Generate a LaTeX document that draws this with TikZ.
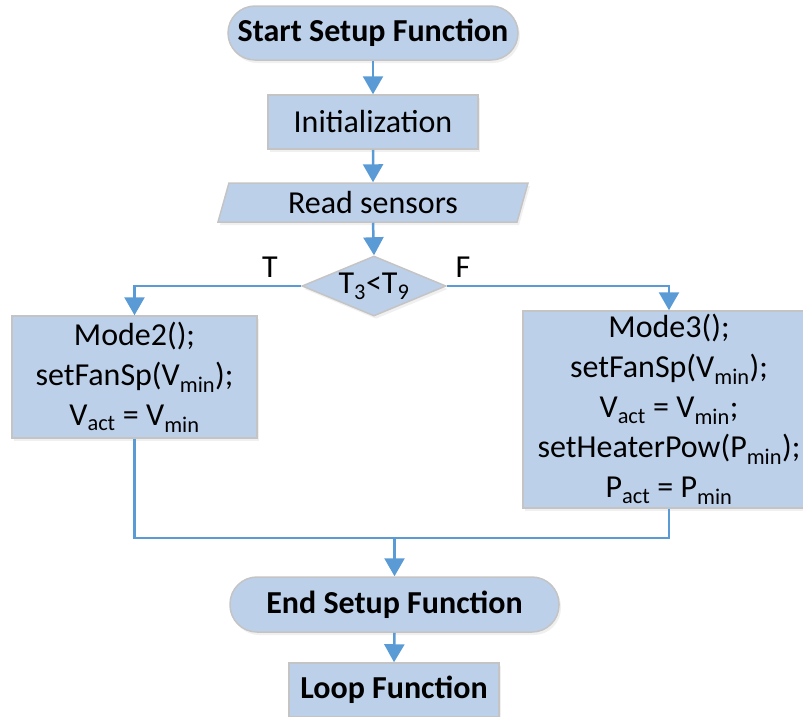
\documentclass[tikz,border=0pt]{standalone}
\usepackage{fontspec}
\setmainfont{Carlito}
\usetikzlibrary{arrows.meta,shapes.geometric,shadows}
\definecolor{boxfill}{HTML}{BDD0EA}
\definecolor{boxedge}{HTML}{C4C4C4}
\definecolor{flowblue}{HTML}{5B9BD5}
\begin{document}
\begin{tikzpicture}[x=1pt,y=-1pt,
  base/.style={fill=boxfill, draw=boxedge, line width=1.5pt, inner sep=0pt,
    font=\fontsize{32}{40}\selectfont, align=center,
    drop shadow={opacity=0.12, shadow xshift=2pt, shadow yshift=-3pt}},
  terminal/.style={base, rectangle, rounded corners=27pt},
  process/.style={base, rectangle},
  io/.style={base, trapezium, trapezium left angle=64, trapezium right angle=116,
    trapezium stretches body},
  decision/.style={base, diamond, aspect=2.4},
  link/.style={draw=flowblue, line width=2.5pt},
  flow/.style={link, -{Triangle[width=20pt,length=18pt]}},
  tag/.style={font=\fontsize{32}{40}\selectfont, inner sep=0pt}]
\useasboundingbox (0,0) rectangle (803,716);

\node[terminal, minimum width=290pt, minimum height=54pt] (start) at (373,33)
  {\bfseries Start Setup Function};
\node[process, minimum width=210pt, minimum height=54pt] (init) at (373,122)
  {Initialization};
\node[io, minimum width=310pt, minimum height=39pt] (read) at (373,202.5)
  {Read sensors};
\node[decision, minimum width=144pt, minimum height=60pt] (dec) at (374,286)
  {T\textsubscript{3}<T\textsubscript{9}};
\node[process, minimum width=245pt, minimum height=122pt] (m2) at (134.5,377)
  {Mode2();\\ setFanSp(V\textsubscript{min});\\ V\textsubscript{act} = V\textsubscript{min}};
\node[process, minimum width=292pt, minimum height=197pt] (m3) at (669,409.5)
  {Mode3();\\ setFanSp(V\textsubscript{min});\\ V\textsubscript{act} = V\textsubscript{min};\\
   setHeaterPow(P\textsubscript{min});\\ P\textsubscript{act} = P\textsubscript{min}};
\node[terminal, minimum width=329pt, minimum height=55pt] (end) at (394.5,604.5)
  {\bfseries End Setup Function};
\node[process, minimum width=210pt, minimum height=54pt] (loop) at (394,690)
  {\bfseries Loop Function};

\node[tag] (tlab) at (270,267) {T};
\node[tag] (flab) at (463,267) {F};
\coordinate (merge) at (394.5,538);

\draw[flow] (start.south) -- (init.north);
\draw[flow] (init.south) -- (read.north);
\draw[flow] (read.south) -- (dec.north);
\draw[flow] (dec.west) -| (m2.north);
\draw[flow] (dec.east) -| (m3.north);
\draw[link] (m2.south) |- (merge);
\draw[link] (m3.south) |- (merge);
\draw[flow] (merge) -- (end.north);
\draw[flow] (end.south) -- (loop.north);
\end{tikzpicture}
\end{document}
